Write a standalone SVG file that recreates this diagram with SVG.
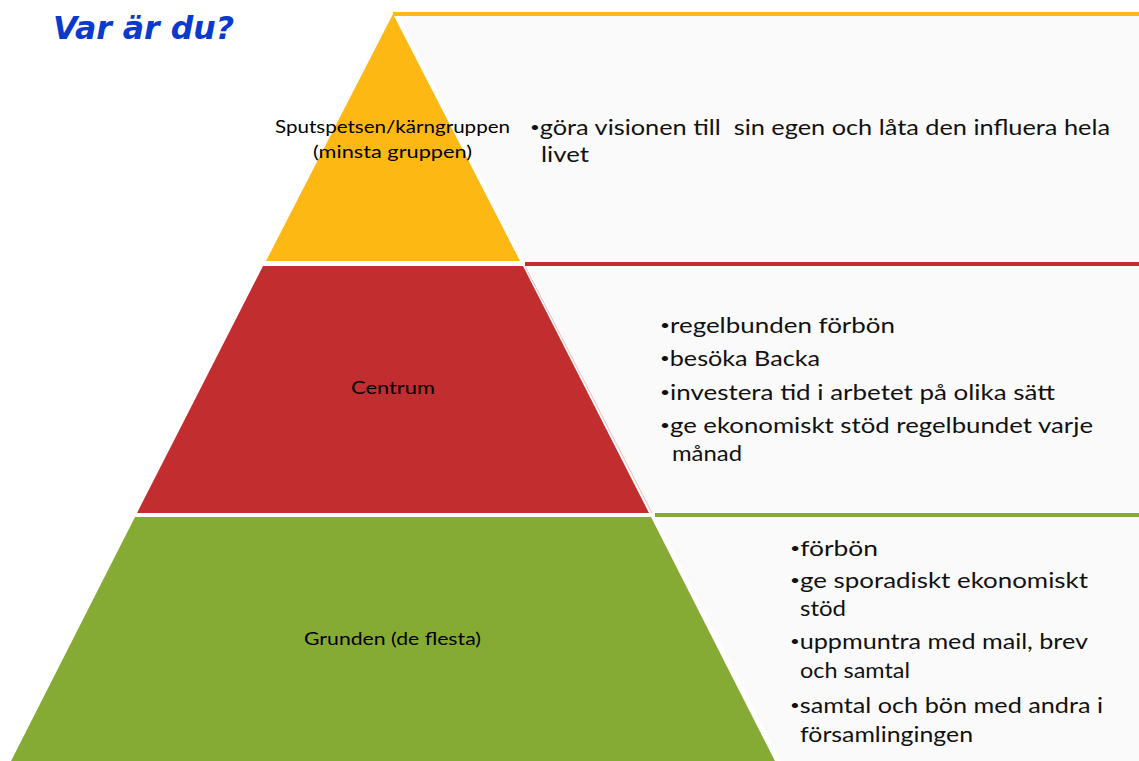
<svg xmlns="http://www.w3.org/2000/svg" width="1139" height="761" viewBox="0 0 1139 761">
<style>
.lbl{font-family:Lato,"Open Sans","Liberation Sans",sans-serif;font-size:17px;fill:#000;}
.txt{font-family:Lato,"Open Sans","Liberation Sans",sans-serif;font-size:21px;fill:#111;}
.b{font-size:14px;baseline-shift:3px;}
.panel{fill:#fafafa;}
.title{font-family:"DejaVu Sans","Liberation Sans",sans-serif;font-size:32px;font-weight:bold;font-style:italic;fill:#0A3ACB;}
</style>
<rect width="1139" height="761" fill="#ffffff"/>
<text class="title" x="53" y="39" textLength="181" lengthAdjust="spacingAndGlyphs">Var är du?</text>

<g id="layer-top">
  <polygon class="panel" points="399,16 1139,16 1139,262 525,262"/>
  <rect x="393" y="12" width="746" height="4" fill="#FDB813"/>
  <polygon points="393,14 520,261 266,261" fill="#FDB813"/>
  <text class="lbl" x="392.5" y="133" text-anchor="middle" textLength="235" lengthAdjust="spacingAndGlyphs">Sputspetsen/kärngruppen</text>
  <text class="lbl" x="392.5" y="158" text-anchor="middle" textLength="159" lengthAdjust="spacingAndGlyphs">(minsta gruppen)</text>
  <text class="txt" x="530" y="135" textLength="580" lengthAdjust="spacingAndGlyphs" xml:space="preserve"><tspan class="b">•</tspan>göra visionen till  sin egen och låta den influera hela</text>
  <text class="txt" x="541" y="162" textLength="48" lengthAdjust="spacingAndGlyphs">livet</text>
</g>

<g id="layer-middle">
  <polygon class="panel" points="527,266 1139,266 1139,513 653,513"/>
  <rect x="525" y="262" width="614" height="4" fill="#C22D2F"/>
  <polygon points="263,266 523,266 649,513 137,513" fill="#C22D2F"/>
  <line x1="525" y1="266" x2="652" y2="513" stroke="#F2B9B9" stroke-width="1"/>
  <text class="lbl" x="393" y="394" text-anchor="middle" textLength="84" lengthAdjust="spacingAndGlyphs">Centrum</text>
  <text class="txt" x="660" y="333" textLength="235" lengthAdjust="spacingAndGlyphs"><tspan class="b">•</tspan>regelbunden förbön</text>
  <text class="txt" x="660" y="366" textLength="160" lengthAdjust="spacingAndGlyphs"><tspan class="b">•</tspan>besöka Backa</text>
  <text class="txt" x="660" y="400" textLength="395" lengthAdjust="spacingAndGlyphs"><tspan class="b">•</tspan>investera tid i arbetet på olika sätt</text>
  <text class="txt" x="660" y="433" textLength="433" lengthAdjust="spacingAndGlyphs"><tspan class="b">•</tspan>ge ekonomiskt stöd regelbundet varje</text>
  <text class="txt" x="672" y="461" textLength="70" lengthAdjust="spacingAndGlyphs">månad</text>
</g>

<g id="layer-bottom">
  <polygon class="panel" points="656,517 1139,517 1139,761 781,761"/>
  <rect x="655" y="513" width="484" height="4" fill="#86AB35"/>
  <polygon points="135,517 651,517 777,765 9,765" fill="#86AB35"/>
  <text class="lbl" x="392.5" y="645" text-anchor="middle" textLength="177" lengthAdjust="spacingAndGlyphs">Grunden (de flesta)</text>
  <text class="txt" x="790" y="556" textLength="88" lengthAdjust="spacingAndGlyphs"><tspan class="b">•</tspan>förbön</text>
  <text class="txt" x="790" y="588" textLength="298" lengthAdjust="spacingAndGlyphs"><tspan class="b">•</tspan>ge sporadiskt ekonomiskt</text>
  <text class="txt" x="800" y="616" textLength="46" lengthAdjust="spacingAndGlyphs">stöd</text>
  <text class="txt" x="790" y="649" textLength="298" lengthAdjust="spacingAndGlyphs"><tspan class="b">•</tspan>uppmuntra med mail, brev</text>
  <text class="txt" x="800" y="678" textLength="110" lengthAdjust="spacingAndGlyphs">och samtal</text>
  <text class="txt" x="790" y="713" textLength="313" lengthAdjust="spacingAndGlyphs"><tspan class="b">•</tspan>samtal och bön med andra i</text>
  <text class="txt" x="800" y="742" textLength="173" lengthAdjust="spacingAndGlyphs">församlingingen</text>
</g>

<g id="connectors"></g>
</svg>
